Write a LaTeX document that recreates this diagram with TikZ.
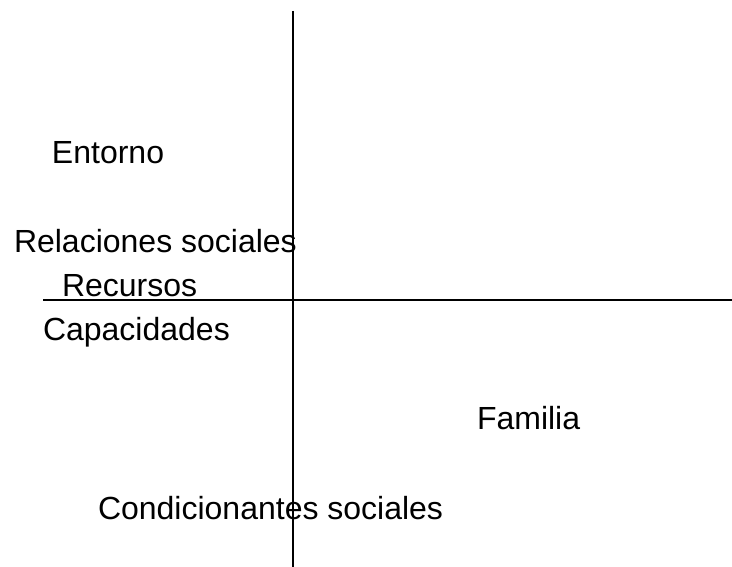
\documentclass[tikz,border=0pt]{standalone}
\usepackage{fontspec}
\setmainfont{Liberation Sans}
\usetikzlibrary{positioning}
\tikzset{
    every node/.style={font=\fontsize{32}{38}\selectfont, inner sep=0, outer sep=0, anchor=base west},
    axis/.style={line width=1.5pt},
}
\begin{document}
\begin{tikzpicture}[x=1pt, y=-1pt]
    \useasboundingbox (0,0) rectangle (732,567);

    % axes
    \coordinate (top) at (293,11);
    \coordinate (bottom) at (293,567);
    \coordinate (left) at (43,300);
    \coordinate (right) at (732,300);
    \draw [axis] (top) -- (bottom);
    \draw [axis] (left) -- (right);

    % labels
    \node (entorno) at (52,164) {Entorno};
    \node (relaciones) at (14,253) {Relaciones sociales};
    \node (recursos) at (62,297) {Recursos};
    \node (capacidades) at (43,340) {Capacidades};
    \node (familia) at (477,429) {Familia};
    \node (condicionantes) at (98,519) {Condicionantes sociales};
\end{tikzpicture}
\end{document}
